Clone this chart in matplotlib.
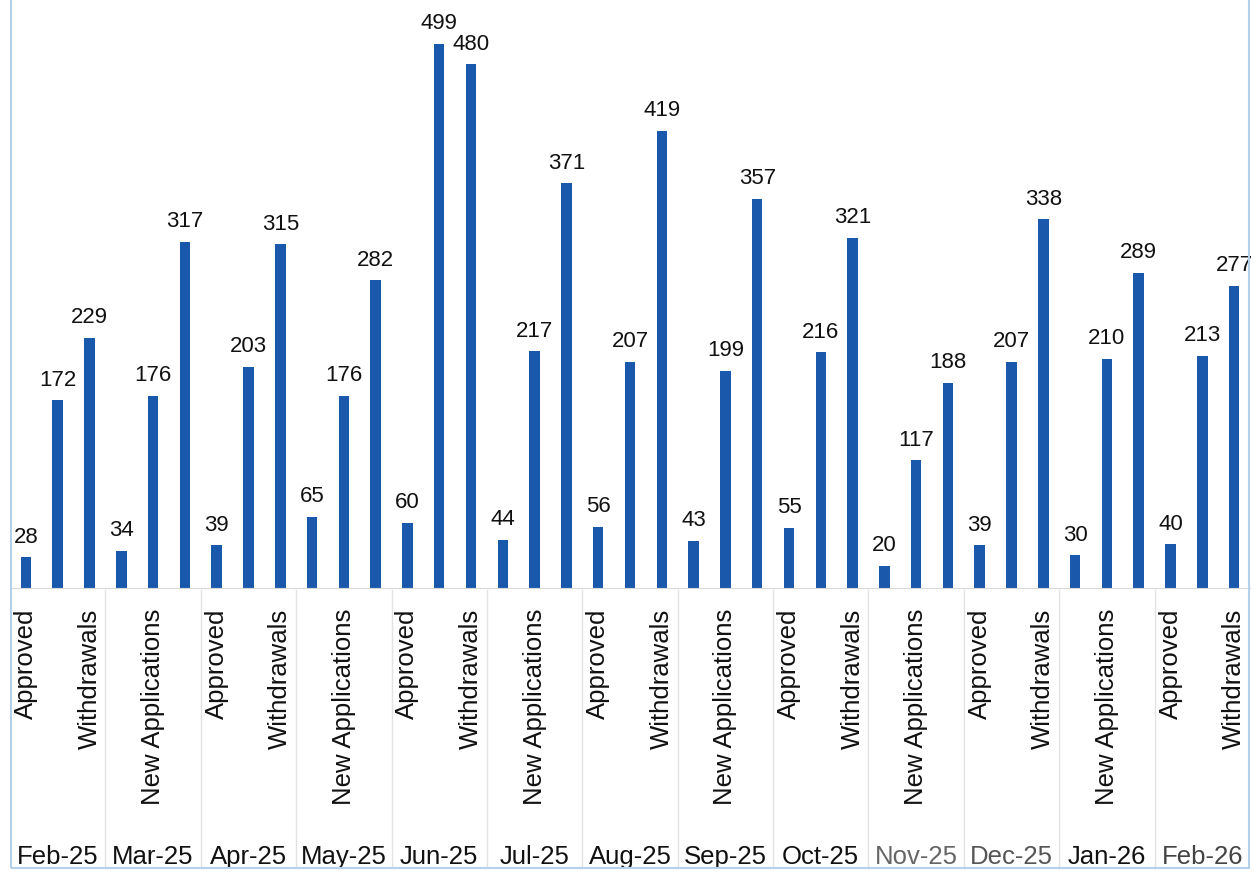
import numpy as np
import matplotlib.pyplot as plt
from matplotlib.transforms import blended_transform_factory
from matplotlib.patches import Rectangle

plt.rcParams['font.family'] = ['Liberation Sans', 'DejaVu Sans']

# ============ DATA ============
months = ['Feb-25', 'Mar-25', 'Apr-25', 'May-25', 'Jun-25', 'Jul-25', 'Aug-25',
          'Sep-25', 'Oct-25', 'Nov-25', 'Dec-25', 'Jan-26', 'Feb-26']
series = ['Approved', 'New Applications', 'Withdrawals']
approved = [28, 34, 39, 65, 60, 44, 56, 43, 55, 20, 39, 30, 40]
new_apps = [172, 176, 203, 176, 499, 217, 207, 199, 216, 117, 207, 210, 213]
withdrawals = [229, 317, 315, 282, 480, 371, 419, 357, 321, 188, 338, 289, 277]

# flatten into one category axis: month x series
values = []
cats = []
for a, n, w in zip(approved, new_apps, withdrawals):
    values += [a, n, w]
    cats += series
x = np.arange(len(values))

BAR = '#1a58ac'
W, H = 1257, 877

fig = plt.figure(figsize=(W / 100, H / 100), dpi=100)
ax = fig.add_axes([10 / W, (H - 588) / H, 1240 / W, 588 / H])

ax.bar(x, values, width=0.33, color=BAR, edgecolor='none')
for xi, v in zip(x, values):
    ax.annotate(str(v), (xi, v), xytext=(0, 7), textcoords='offset points',
                ha='center', va='bottom', fontsize=16, color='#111111')

ax.set_xlim(-0.5, len(values) - 0.5)
ax.set_ylim(0, 539)
ax.set_yticks([])

# only every second category label fits
ax.set_xticks(x[::2])
ax.set_xticklabels(cats[::2], rotation=90, fontsize=18.5, color='#111111')
ax.tick_params(axis='x', length=0, pad=15)

for s in ['top', 'right', 'left']:
    ax.spines[s].set_visible(False)
ax.spines['bottom'].set_color('#d9d9d9')

# month labels and separators
trans = blended_transform_factory(ax.transData, fig.transFigure)
month_col = ['#111111'] * 9 + ['#666666', '#555555', '#111111', '#444444']
for i, m in enumerate(months):
    ax.text(3 * i + 1, (H - 857) / H, m, transform=trans, ha='center',
            va='center', fontsize=18.5, color=month_col[i], clip_on=False)
for i in range(1, len(months)):
    ax.plot([3 * i - 0.5] * 2, [(H - 590) / H, (H - 868) / H], transform=trans,
            color='#e2e2e2', lw=1, clip_on=False)

# chart area border
fig.patches.append(Rectangle((11 / W, (H - 868) / H), 1238 / W, 868 / H + 0.01,
                             transform=fig.transFigure, fill=False,
                             edgecolor='#b5d0ea', lw=1.5))

fig.savefig('out.png', dpi=100, facecolor='white')
